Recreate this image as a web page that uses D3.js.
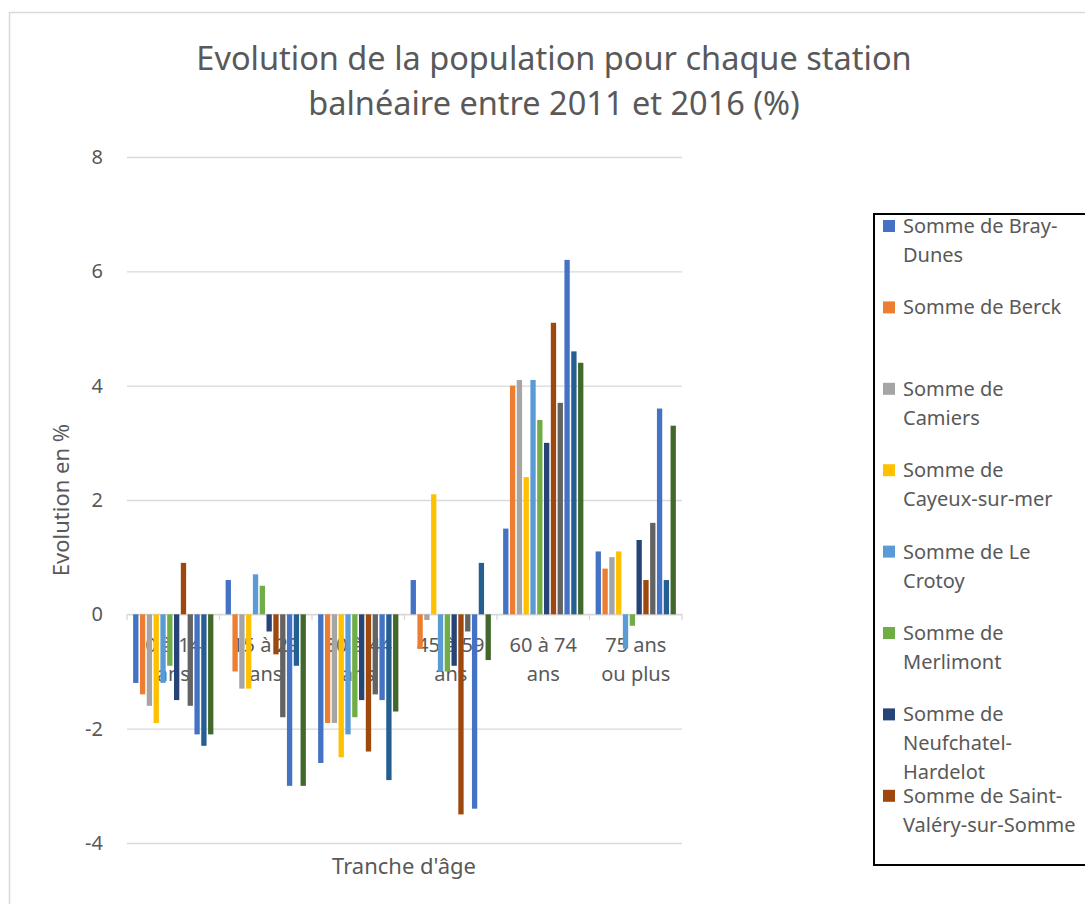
<!DOCTYPE html>
<html>
<head>
<meta charset="utf-8">
<script src="https://cdn.jsdelivr.net/npm/d3@7"></script>
<style>
body{margin:0;background:#fff;}
svg{display:block;font-family:"Noto Sans",sans-serif;}
</style>
</head>
<body>
<svg id="chart" width="1085" height="904"></svg>
<script>
const categories=["0 à 14 ans","15 à 29 ans","30 à 44 ans","45 à 59 ans","60 à 74 ans","75 ans ou plus"];
const seriesNames=["Somme de Bray-Dunes","Somme de Berck","Somme de Camiers","Somme de Cayeux-sur-mer","Somme de Le Crotoy","Somme de Merlimont","Somme de Neufchatel-Hardelot","Somme de Saint-Valéry-sur-Somme","Série 9","Série 10","Série 11","Série 12"];
const seriesColors=["#4472C4","#ED7D31","#A5A5A5","#FFC000","#5B9BD5","#70AD47","#264478","#9E480E","#636363","#4472C4","#255E91","#43682B"];
// values per series, one per age group
const v1=[-1.2,0.6,-2.6,0.6,1.5,1.1];
const v2=[-1.4,-1.0,-1.9,-0.6,4.0,0.8];
const v3=[-1.6,-1.3,-1.9,-0.1,4.1,1.0];
const v4=[-1.9,-1.3,-2.5,2.1,2.4,1.1];
const v5=[-1.2,0.7,-2.1,-1.0,4.1,-0.6];
const v6=[-0.9,0.5,-1.8,-1.0,3.4,-0.2];
const v7=[-1.5,-0.3,-1.5,-0.9,3.0,1.3];
const v8=[0.9,-0.7,-2.4,-3.5,5.1,0.6];
const v9=[-1.6,-1.8,-1.4,-0.3,3.7,1.6];
const v10=[-2.1,-3.0,-1.5,-3.4,6.2,3.6];
const v11=[-2.3,-0.9,-2.9,0.9,4.6,0.6];
const v12=[-2.1,-3.0,-1.7,-0.8,4.4,3.3];
const seriesValues=[v1,v2,v3,v4,v5,v6,v7,v8,v9,v10,v11,v12];
const yTicks=[-4,-2,0,2,4,6,8];
const legendLines=[["Somme de Bray-","Dunes"],["Somme de Berck"],["Somme de","Camiers"],["Somme de","Cayeux-sur-mer"],["Somme de Le","Crotoy"],["Somme de","Merlimont"],["Somme de","Neufchatel-","Hardelot"],["Somme de Saint-","Valéry-sur-Somme"]];

const svg=d3.select("#chart");
const textColor="#595959";
const grid="#d9d9d9";

// chart area border
svg.append("rect").attr("x",9.5).attr("y",12.5).attr("width",1200).attr("height",1000)
    .attr("fill","#fff").attr("stroke",grid).attr("stroke-width",1.5);

const margin={top:157,left:127};
const width=555,height=686;
const g=svg.append("g").attr("transform",`translate(${margin.left},${margin.top})`);

const x0=d3.scaleBand().domain(categories).range([0,width]).padding(0);
const x1=d3.scaleBand().domain(d3.range(seriesNames.length)).range([0,x0.bandwidth()])
    .paddingInner(0.22).paddingOuter(0.9);
const y=d3.scaleLinear().domain([-4,8]).range([height,0]);

// gridlines
g.append("g").call(d3.axisLeft(y).tickValues(yTicks).tickSize(-width).tickFormat(""))
    .call(a=>a.select(".domain").remove())
    .call(a=>a.selectAll("line").attr("stroke",grid).attr("stroke-width",1.3));

// y labels
g.append("g").selectAll("text").data(yTicks).enter().append("text")
    .attr("x",-24).attr("y",d=>y(d)).attr("dy","0.35em")
    .attr("text-anchor","end").attr("font-size",20).attr("fill",textColor)
    .text(d=>d);

// x axis at zero with small ticks
const xa=g.append("g").attr("transform",`translate(0,${y(0)})`);
xa.append("line").attr("x1",0).attr("x2",width).attr("stroke",grid).attr("stroke-width",1.3);
xa.selectAll(".tk").data(d3.range(categories.length+1)).enter().append("line")
    .attr("x1",i=>i*x0.bandwidth()).attr("x2",i=>i*x0.bandwidth())
    .attr("y1",0).attr("y2",6).attr("stroke",grid).attr("stroke-width",1.3);

// category labels, wrapped
function wrapWords(sel,maxW){
    sel.each(function(d){
        const t=d3.select(this);
        const words=d.split(" ");
        let lines=[],cur=[];
        const tmp=t.append("tspan");
        words.forEach(w=>{
            const test=cur.concat([w]).join(" ");
            tmp.text(test);
            if(tmp.node().getComputedTextLength()>maxW&&cur.length){lines.push(cur.join(" "));cur=[w];}
            else cur.push(w);
        });
        lines.push(cur.join(" "));
        tmp.remove();
        lines.forEach((l,i)=>t.append("tspan").attr("x",0).attr("dy",i?29:0).text(l));
    });
}
xa.selectAll(".cat").data(categories).enter().append("text")
    .attr("transform",d=>`translate(${x0(d)+x0.bandwidth()/2},38)`)
    .attr("text-anchor","middle").attr("font-size",20).attr("fill",textColor)
    .call(wrapWords,84);

// bars
const groups=g.selectAll(".grp").data(categories).enter().append("g")
    .attr("transform",d=>`translate(${x0(d)},0)`);
groups.selectAll("rect").data((c,ci)=>seriesValues.map((s,si)=>({si,v:s[ci]}))).enter().append("rect")
    .attr("x",d=>x1(d.si)).attr("width",x1.bandwidth())
    .attr("y",d=>y(Math.max(0,d.v))).attr("height",d=>Math.abs(y(d.v)-y(0)))
    .attr("fill",d=>seriesColors[d.si]);

// axis titles
svg.append("text").attr("transform","translate(69,500) rotate(-90)")
    .attr("text-anchor","middle").attr("font-size",22).attr("fill",textColor).text("Evolution en %");
svg.append("text").attr("x",404).attr("y",874)
    .attr("text-anchor","middle").attr("font-size",22).attr("fill",textColor).text("Tranche d'âge");

// title
const title=svg.append("text").attr("text-anchor","middle").attr("font-size",32.5).attr("fill",textColor);
["Evolution de la population pour chaque station","balnéaire entre 2011 et 2016 (%)"].forEach((l,i)=>
    title.append("tspan").attr("x",554).attr("y",70+i*45).text(l));

// legend
svg.append("rect").attr("x",874).attr("y",214).attr("width",300).attr("height",651)
    .attr("fill","none").attr("stroke","#000").attr("stroke-width",2);
const leg=svg.append("g").selectAll("g").data(legendLines).enter().append("g")
    .attr("transform",(d,i)=>`translate(883,${226+i*81.4})`);
leg.append("rect").attr("x",0).attr("y",-6).attr("width",12).attr("height",12)
    .attr("fill",(d,i)=>seriesColors[i]);
leg.append("text").attr("font-size",20).attr("fill",textColor)
    .selectAll("tspan").data(d=>d).enter().append("tspan")
    .attr("x",20).attr("y",(d,i)=>i*29).attr("dy","0.35em").text(d=>d);
</script>
</body>
</html>
